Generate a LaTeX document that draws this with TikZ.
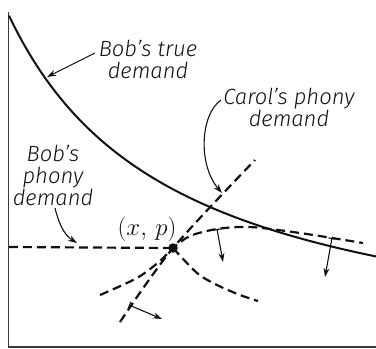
\documentclass[tikz,border=0pt]{standalone}
\usepackage{fontspec}
\usetikzlibrary{arrows.meta}
\newfontfamily\handfont{Fira Sans Light Italic}
\definecolor{econfg}{HTML}{111111}
\definecolor{econaxis}{HTML}{3A3A3A}

\begin{document}
\begin{tikzpicture}[x=1pt,y=-1pt,>={Stealth[length=9pt,width=6pt]}]
  \tikzstyle{axis}=[draw=econaxis, line width=1.6pt]
  \tikzstyle{truecurve}=[draw=econfg, line width=2pt]
  \tikzstyle{phony}=[draw=econfg, line width=2.2pt, dash pattern=on 9pt off 5pt]
  \tikzstyle{nudge}=[{Bar[width=7pt]}-{Stealth[length=9pt,width=6pt]}, draw=econfg, line width=1.1pt]
  \tikzstyle{callout}=[->, draw=econfg, line width=1.1pt]
  \tikzstyle{handlabel}=[font=\handfont\fontsize{22}{22}\selectfont, text=econfg, align=center, inner sep=0pt]
  \tikzstyle{mathlabel}=[font=\fontsize{23}{24}\selectfont, text=econfg, inner sep=0pt]
  \tikzstyle{dot}=[circle, fill=econfg, inner sep=0pt, minimum size=9.5pt]

  \useasboundingbox (0,0) rectangle (376,349);

  \draw[axis] (8.5,12) -- (8.5,347) -- (376,347);

  \draw[truecurve] plot[domain=9:376, samples=80] (\x, {366 - 585/((\x+158)/100)});

  \node[dot] (pt) at (173,248) {};
  \node[mathlabel] (ptlbl) at (147,229) {$(x,\,p)$};

  \draw[phony] (9,247) -- (pt.center);
  \draw[phony] plot[smooth] coordinates {(120,322) (173,248) (255,160)};
  \draw[phony] plot[smooth] coordinates {(100,295) (137,278) (160,261) (173,248) (190,236) (217,229) (250,227) (300,233) (363,243)};
  \draw[phony] plot[smooth] coordinates {(173,248) (197,273) (217,285) (240,295) (258,301)};

  \foreach \a/\b/\c/\d in {217/229/223/262, 332/238/325/277, 129/305/162/319} {
    \draw[nudge] (\a,\b) -- (\c,\d);
  }

  \node[handlabel] (truelbl) at (148,59) {Bob’s true\\demand};
  \node[handlabel] (carollbl) at (289,107) {Carol’s phony\\demand};
  \node[handlabel] (boblbl) at (53,175) {Bob’s\\phony\\demand};

  \coordinate (truefrom) at (95,53);
  \coordinate (truetip) at (47,77);
  \coordinate (carolfrom) at (221,100);
  \coordinate (caroltip) at (222,193);
  \coordinate (bobfrom) at (55,208);
  \coordinate (bobtip) at (77,243);

  \draw[callout] (truefrom) -- (truetip);
  \draw[callout] (carolfrom) .. controls (200,115) and (198,165) .. (caroltip);
  \draw[callout] (bobfrom) .. controls (60,228) and (66,236) .. (bobtip);
\end{tikzpicture}
\end{document}
